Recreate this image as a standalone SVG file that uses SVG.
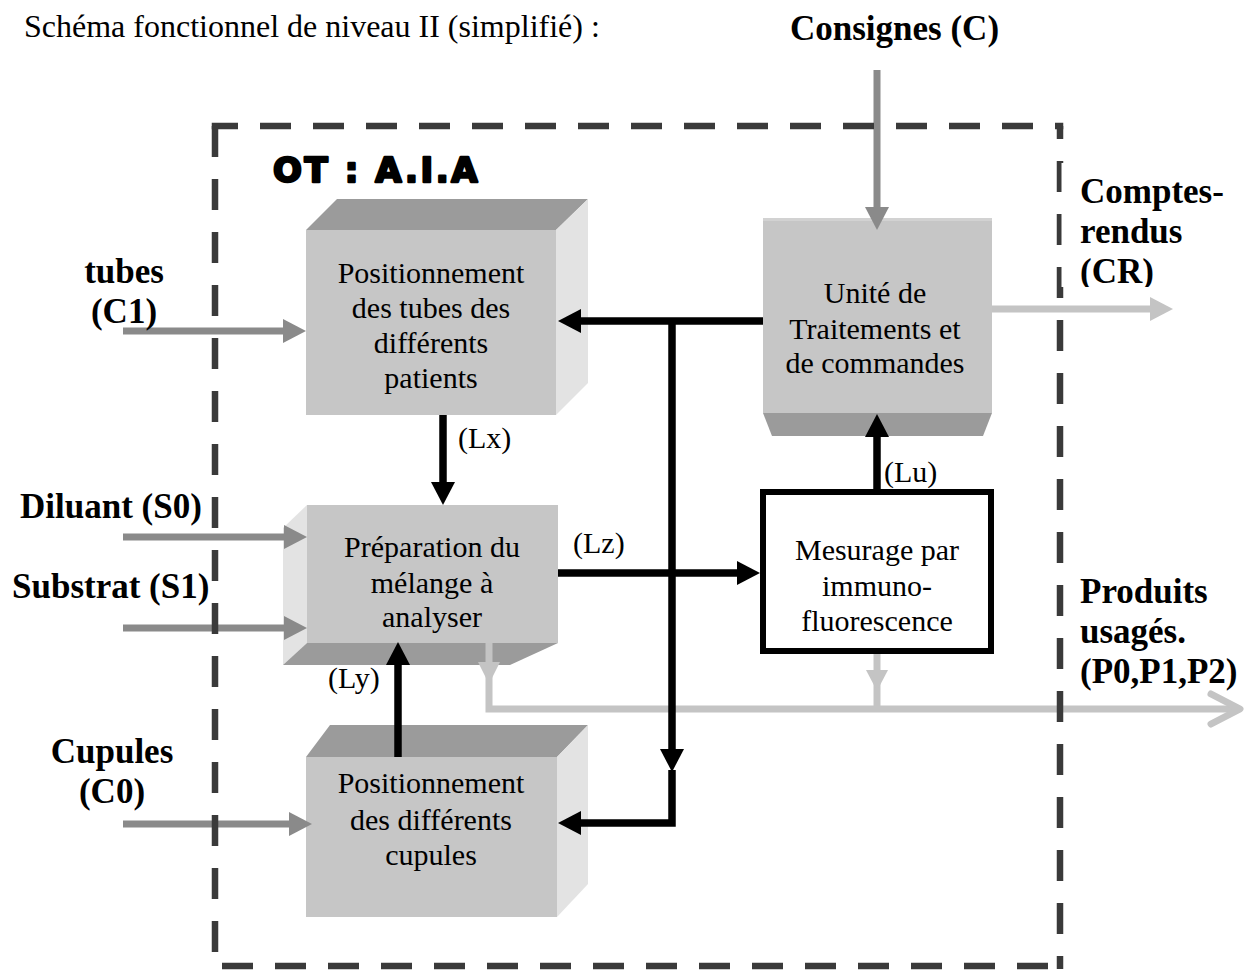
<svg xmlns="http://www.w3.org/2000/svg" width="1248" height="970" viewBox="0 0 1248 970">
<defs>
<style>
.t{font-family:"Liberation Serif","Times New Roman",serif;font-size:30px;fill:#000}
.c{text-anchor:middle}
.b{font-family:"Liberation Serif","Times New Roman",serif;font-size:35px;font-weight:bold;fill:#000}
.top{fill:#9b9b9b}
.front{fill:#c6c6c6}
.side{fill:#e3e3e3}
.blk{stroke:#000;stroke-width:7.5;fill:none;stroke-linejoin:miter}
.in{stroke:#8a8a8a;stroke-width:7;fill:none}
.out{stroke:#c4c4c4;stroke-width:7;fill:none}
.bd{stroke:#3a3a3a;stroke-width:6.5;fill:none;stroke-dasharray:31 22}
</style>
<marker id="hb" markerUnits="userSpaceOnUse" markerWidth="24" markerHeight="24" viewBox="0 0 24 24" refX="0" refY="12" orient="auto"><path d="M0,0 L23,12 L0,24 z" fill="#000"/></marker>
<marker id="hg" markerUnits="userSpaceOnUse" markerWidth="24" markerHeight="24" viewBox="0 0 24 24" refX="0" refY="12" orient="auto"><path d="M0,0 L23,12 L0,24 z" fill="#8a8a8a"/></marker>
<marker id="hl" markerUnits="userSpaceOnUse" markerWidth="24" markerHeight="24" viewBox="0 0 24 24" refX="0" refY="12" orient="auto"><path d="M0,0 L23,12 L0,24 z" fill="#c4c4c4"/></marker>
<clipPath id="crclip"><rect x="1060" y="163" width="180" height="124"/></clipPath>
</defs>
<rect width="1248" height="970" fill="#fff"/>

<text x="24" y="37" class="t" style="font-size:32px">Schéma fonctionnel de niveau II (simplifié) :</text>
<text x="790" y="40" class="b">Consignes (C)</text>
<text x="273" y="182" style="font-family:'DejaVu Sans',sans-serif;font-weight:bold;font-size:34px;letter-spacing:2.6px;stroke:#000;stroke-width:2.4;stroke-linejoin:round">OT : A.I.A</text>

<g id="n-tubes">
<polygon class="top" points="306,230 337,199 588,199 556,230"/>
<polygon class="side" points="556,230 588,199 588,383 556,415"/>
<rect class="front" x="306" y="230" width="250" height="185"/>
<text class="t c" x="431" y="283">Positionnement</text>
<text class="t c" x="431" y="318">des tubes des</text>
<text class="t c" x="431" y="353">différents</text>
<text class="t c" x="431" y="388">patients</text>
</g>

<g id="n-utc">
<polygon class="top" points="763,413 992,413 983,436 772,436"/>
<rect class="front" x="763" y="218" width="229" height="195"/>
<rect x="763" y="218" width="229" height="3" fill="#d2d2d2"/>
<text class="t c" x="875" y="303">Unité de</text>
<text class="t c" x="875" y="339">Traitements et</text>
<text class="t c" x="875" y="373">de commandes</text>
</g>

<g id="n-prep">
<polygon class="side" points="283,528 307,505 307,643 283,665"/>
<polygon class="top" points="283,665 307,643 558,643 510,665"/>
<rect class="front" x="307" y="505" width="251" height="138"/>
<text class="t c" x="432" y="557">Préparation du</text>
<text class="t c" x="432" y="593">mélange à</text>
<text class="t c" x="432" y="627">analyser</text>
</g>

<g id="n-cupules">
<polygon class="top" points="306,757 330,725 588,725 557,757"/>
<polygon class="side" points="557,757 588,725 588,884 557,917"/>
<rect class="front" x="306" y="757" width="251" height="160"/>
<text class="t c" x="431" y="793">Positionnement</text>
<text class="t c" x="431" y="830">des différents</text>
<text class="t c" x="431" y="865">cupules</text>
</g>

<g id="n-mesure">
<rect x="763" y="492" width="228" height="159" fill="#fff" stroke="#000" stroke-width="6"/>
<text class="t c" x="877" y="560">Mesurage par</text>
<text class="t c" x="877" y="596">immuno-</text>
<text class="t c" x="877" y="631">fluorescence</text>
</g>

<g id="connectors">
<path class="out" d="M489,643 V709 H1237"/>
<polygon points="478,662 500,662 489,684" fill="#c4c4c4"/>
<path class="out" d="M877,654 V709"/>
<polygon points="866,670 888,670 877,691" fill="#c4c4c4"/>
<path d="M1211,694 L1240,709 L1211,724" fill="none" stroke="#c4c4c4" stroke-width="7" stroke-linejoin="round" stroke-linecap="round"/>
<path class="out" d="M992,309 H1150" marker-end="url(#hl)"/>

<path class="in" d="M123,331 H283" marker-end="url(#hg)"/>
<path class="in" d="M123,537 H284" marker-end="url(#hg)"/>
<path class="in" d="M123,628 H284" marker-end="url(#hg)"/>
<path class="in" d="M123,824 H289" marker-end="url(#hg)"/>
<path class="in" d="M877,70 V207" marker-end="url(#hg)"/>

<path class="blk" d="M763,321 H581" marker-end="url(#hb)"/>
<path class="blk" d="M672,318 V749" marker-end="url(#hb)"/>
<path class="blk" d="M672,770 V823 H581" marker-end="url(#hb)"/>
<path class="blk" d="M443,415 V482" marker-end="url(#hb)"/>
<path class="blk" d="M558,573 H737" marker-end="url(#hb)"/>
<path class="blk" d="M398,757 V665" marker-end="url(#hb)"/>
<path class="blk" d="M877,489 V437" marker-end="url(#hb)"/>

<text class="t" x="458" y="448">(Lx)</text>
<text class="t" x="573" y="553">(Lz)</text>
<text class="t" x="328" y="688">(Ly)</text>
<text class="t" x="884" y="482">(Lu)</text>
</g>

<g id="boundary">
<path class="bd" d="M211.75,126 H1063.25" style="stroke-dashoffset:4.75"/>
<path class="bd" d="M215,126 V969" />
<path class="bd" d="M1060,126 V969" style="stroke-dashoffset:18"/>
<path class="bd" d="M215,966 H1063" style="stroke-dashoffset:46"/>
</g>

<rect x="1061.5" y="163" width="175" height="124" fill="#fff"/>

<g id="labels">
<text class="b c" x="124" y="283">tubes</text>
<text class="b c" x="124" y="323">(C1)</text>
<text class="b" x="20" y="518">Diluant (S0)</text>
<text class="b" x="12" y="598">Substrat (S1)</text>
<text class="b c" x="112" y="763">Cupules</text>
<text class="b c" x="112" y="803">(C0)</text>
<g clip-path="url(#crclip)">
<text class="b" x="1080" y="203">Comptes-</text>
<text class="b" x="1080" y="243">rendus</text>
<text class="b" x="1080" y="283">(CR)</text>
</g>
<text class="b" x="1080" y="603">Produits</text>
<text class="b" x="1080" y="643">usagés.</text>
<text class="b" x="1080" y="683">(P0,P1,P2)</text>
</g>
</svg>
